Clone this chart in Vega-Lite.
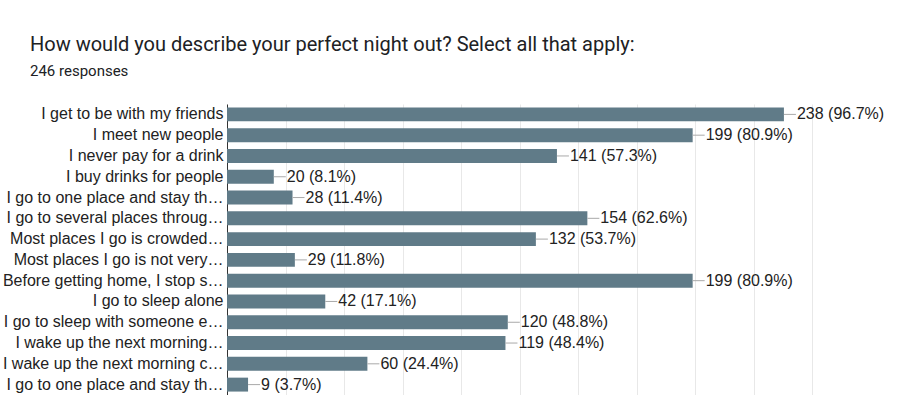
{
  "$schema": "https://vega.github.io/schema/vega-lite/v6.json",
  "autosize": {"type": "none"},
  "padding": {"left": 227, "top": 104, "right": 90, "bottom": 0},
  "width": 585,
  "height": 291,
  "background": "white",
  "title": {
    "text": "How would you describe your perfect night out? Select all that apply:",
    "subtitle": "246 responses",
    "anchor": "start",
    "frame": "group",
    "dx": -197,
    "offset": 25,
    "font": "Roboto",
    "fontSize": 20,
    "fontWeight": "normal",
    "color": "#202124",
    "subtitleFont": "Roboto",
    "subtitleFontSize": 15,
    "subtitleColor": "#202124",
    "subtitlePadding": 9
  },
  "data": {
    "values": [
      {"answer": "I get to be with my friends", "count": 238, "label": "238 (96.7%)"},
      {"answer": "I meet new people", "count": 199, "label": "199 (80.9%)"},
      {"answer": "I never pay for a drink", "count": 141, "label": "141 (57.3%)"},
      {"answer": "I buy drinks for people", "count": 20, "label": "20 (8.1%)"},
      {"answer": "I go to one place and stay th…", "count": 28, "label": "28 (11.4%)"},
      {"answer": "I go to several places throug…", "count": 154, "label": "154 (62.6%)"},
      {"answer": "Most places I go is crowded…", "count": 132, "label": "132 (53.7%)"},
      {"answer": "Most places I go is not very…", "count": 29, "label": "29 (11.8%)"},
      {"answer": "Before getting home, I stop s…", "count": 199, "label": "199 (80.9%)"},
      {"answer": "I go to sleep alone", "count": 42, "label": "42 (17.1%)"},
      {"answer": "I go to sleep with someone e…", "count": 120, "label": "120 (48.8%)"},
      {"answer": "I wake up the next morning…", "count": 119, "label": "119 (48.4%)"},
      {"answer": "I wake up the next morning c…", "count": 60, "label": "60 (24.4%)"},
      {"answer": "I go to one place and stay th… ", "count": 9, "label": "9 (3.7%)"}
    ]
  },
  "encoding": {
    "y": {
      "field": "answer",
      "type": "nominal",
      "sort": null,
      "scale": {"paddingInner": 0.33, "paddingOuter": 0.165},
      "axis": {
        "title": null,
        "ticks": false,
        "labelFont": "Liberation Sans",
        "labelFontSize": 16,
        "labelColor": "#222222",
        "labelPadding": 4,
        "labelLimit": 400,
        "domainColor": "#333333",
        "domainWidth": 1,
        "grid": false
      }
    },
    "x": {
      "field": "count",
      "type": "quantitative",
      "scale": {"domain": [0, 250], "nice": false},
      "axis": {
        "title": null,
        "labels": false,
        "ticks": false,
        "domain": false,
        "values": [0, 25, 50, 75, 100, 125, 150, 175, 200, 225, 250],
        "gridColor": "#e8e8e8",
        "gridWidth": 1
      }
    }
  },
  "layer": [
    {"mark": {"type": "bar", "color": "#607b88"}},
    {
      "mark": {"type": "rule", "color": "#a9a9a9", "x2Offset": 12, "strokeWidth": 1},
      "encoding": {"x2": {"field": "count"}}
    },
    {
      "mark": {"type": "text", "align": "left", "dx": 13, "font": "Liberation Sans", "fontSize": 16, "color": "#222222"},
      "encoding": {"text": {"field": "label"}}
    }
  ],
  "config": {"view": {"stroke": null}}
}
